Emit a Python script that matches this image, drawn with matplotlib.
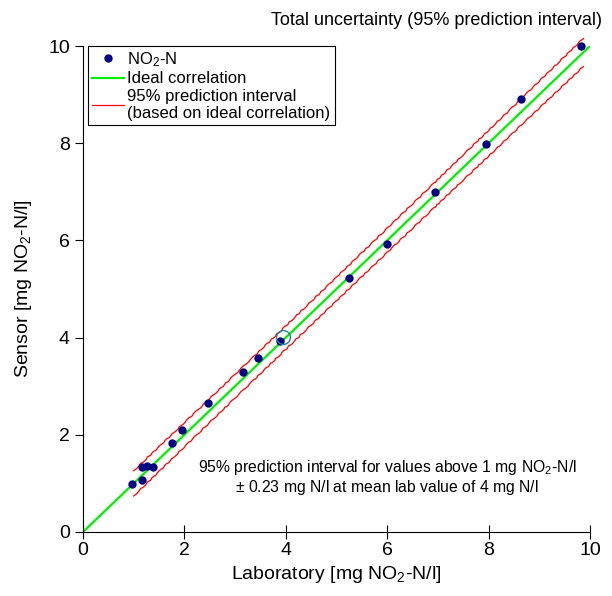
import matplotlib
matplotlib.use("Agg")
import numpy as np
import matplotlib.pyplot as plt
from matplotlib.lines import Line2D

plt.rcParams['font.family'] = ['Liberation Sans', 'DejaVu Sans']
plt.rcParams['mathtext.fontset'] = 'custom'
plt.rcParams['mathtext.rm'] = 'Liberation Sans'
plt.rcParams['mathtext.it'] = 'Liberation Sans'
plt.rcParams['mathtext.default'] = 'regular'

# measured NO2-N values (lab vs sensor)
lab = [0.97, 1.16, 1.16, 1.27, 1.39, 1.76, 1.95, 2.47, 3.16, 3.46, 3.89,
       5.25, 6.00, 6.94, 7.94, 8.63, 9.83]
sensor = [0.99, 1.06, 1.33, 1.36, 1.33, 1.83, 2.09, 2.66, 3.29, 3.59, 3.92,
          5.22, 5.92, 6.99, 7.99, 8.91, 10.0]

# point at mean lab value
mean_x = [3.95]
mean_y = [4.02]

# ideal correlation
ideal_x = [0, 10]
ideal_y = [0, 10]

# half width of prediction interval
pi_x = [1.0, 2.5, 4.0, 5.5, 7.0, 8.5, 9.87]
pi_hw = [0.26, 0.245, 0.24, 0.245, 0.255, 0.27, 0.29]

fig = plt.figure(figsize=(6.12, 5.96), dpi=100)
ax = fig.add_axes([0.1356, 0.1074, 0.8284, 0.8154])

ax.plot(ideal_x, ideal_y, color='#00ee00', lw=1.6, zorder=2)

px = np.array(pi_x)
hw = np.array(pi_hw)
up, = ax.plot(px, px + hw, color='red', lw=0.9, clip_on=False, zorder=1)
lo, = ax.plot(px, px - hw, color='red', lw=0.9, clip_on=False, zorder=1)
# the original interval lines are slightly ragged
up.set_sketch_params(0.45, 12, 3)
lo.set_sketch_params(0.45, 12, 3)

ax.plot(lab, sensor, 'o', color='#000080', ms=5, clip_on=False, zorder=3)
ax.plot(mean_x, mean_y, 'o', mfc='none', mec='#1a8a8a', ms=10, mew=1, zorder=4)

ax.set_xlim(0, 10)
ax.set_ylim(0, 10)
ax.set_xticks([0, 2, 4, 6, 8, 10])
ax.set_yticks([0, 2, 4, 6, 8, 10])
ax.spines['top'].set_visible(False)
ax.spines['right'].set_visible(False)
ax.tick_params(axis='x', direction='inout', length=10, labelsize=14, pad=2)
ax.tick_params(axis='y', direction='out', length=6, labelsize=14)

ax.set_xlabel('Laboratory [mg NO$_2$-N/l]', fontsize=14, labelpad=4)
ax.set_ylabel('Sensor [mg NO$_2$-N/l]', fontsize=14, labelpad=10)

fig.text(0.713, 0.965, 'Total uncertainty (95% prediction interval)',
         ha='center', va='center', fontsize=13)

ax.text(6.0, 1.12, '95% prediction interval for values above 1 mg NO$_2$-N/l\n'
        '$\\pm$ 0.23 mg N/l at mean lab value of 4 mg N/l',
        ha='center', va='center', fontsize=11.3, multialignment='center',
        linespacing=1.1)

handles = [
    Line2D([], [], ls='none', marker='o', color='#000080', ms=5),
    Line2D([], [], color='#00ee00', lw=1.6),
    Line2D([], [], color='red', lw=0.9),
]
labels = ['NO$_2$-N', 'Ideal correlation',
          '95% prediction interval\n(based on ideal correlation)']
leg = ax.legend(handles, labels,
                loc='upper left', bbox_to_anchor=(0.01, 1.0), borderaxespad=0,
                fancybox=False, edgecolor='black', framealpha=1, fontsize=12,
                handlelength=1.9, handletextpad=0.2, borderpad=0.25,
                labelspacing=0.15)
leg.get_frame().set_linewidth(0.8)

fig.savefig('out.png', dpi=100)
